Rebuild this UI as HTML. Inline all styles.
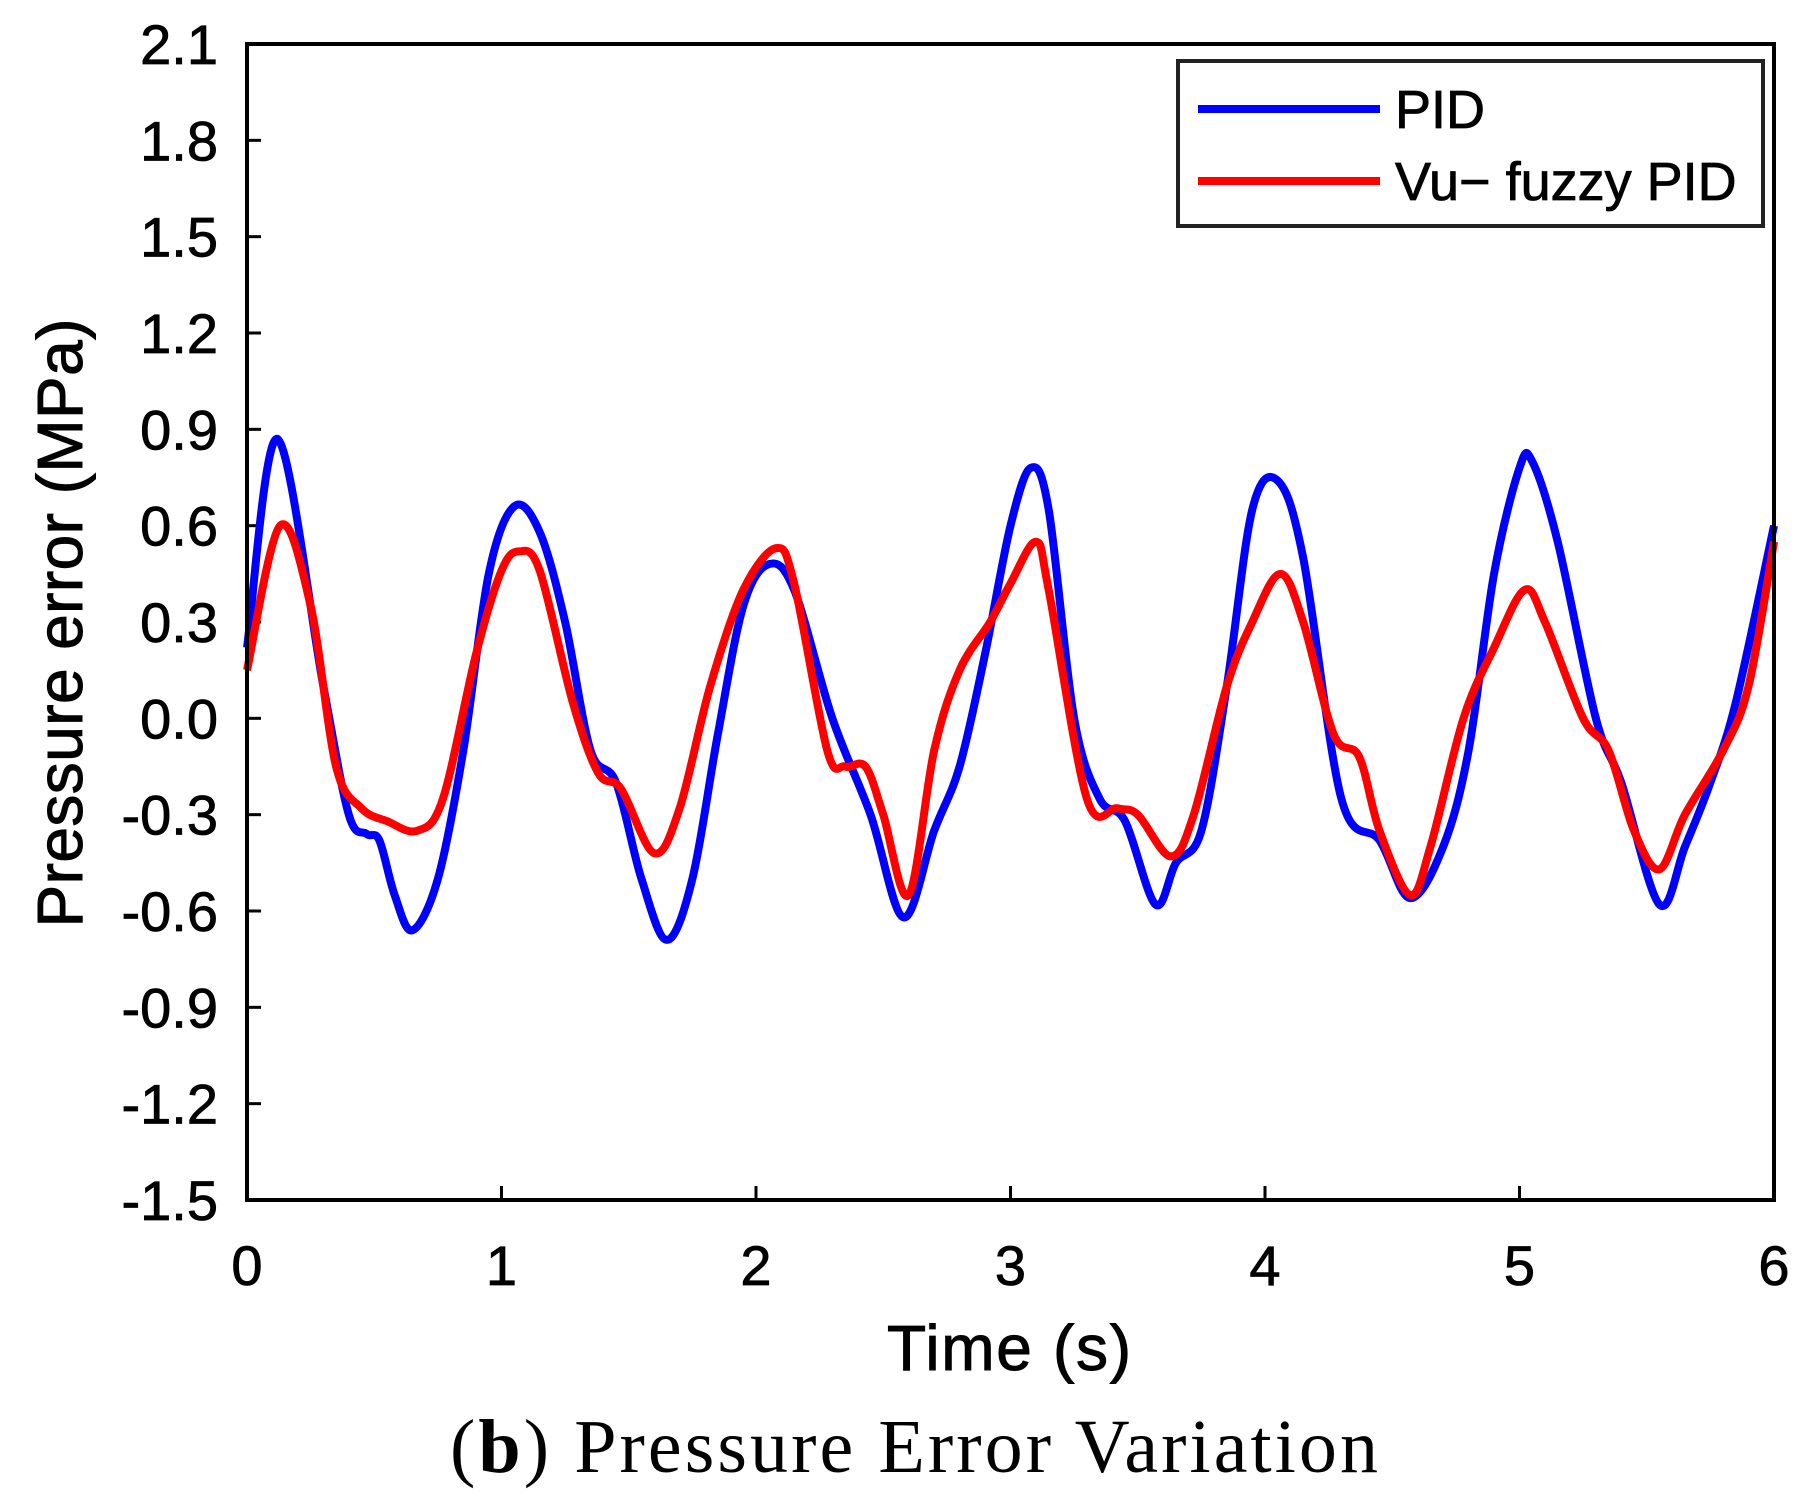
<!DOCTYPE html>
<html><head><meta charset="utf-8"><style>
body{margin:0;background:#fff}
svg text{font-family:"Liberation Sans",sans-serif}
</style></head><body>
<svg id="chart" width="1809" height="1506" viewBox="0 0 1809 1506" xmlns="http://www.w3.org/2000/svg">
<rect width="1809" height="1506" fill="#fff"/>
<g id="ticks"></g>
<g id="series"></g>
<rect x="247" y="44" width="1527" height="1156" fill="none" stroke="#000" stroke-width="4"/>
<g>
<rect x="1178" y="61" width="585" height="165" fill="#fff" stroke="#222" stroke-width="4"/>
<line x1="1198" y1="109" x2="1380" y2="109" stroke="#0000ff" stroke-width="8"/>
<text x="1395" y="128" font-size="54" stroke="#000" stroke-width="0.8">PID</text>
<line x1="1198" y1="181" x2="1380" y2="181" stroke="#ff0000" stroke-width="8"/>
<text x="1395" y="200" font-size="54" stroke="#000" stroke-width="0.8">Vu− fuzzy PID</text>
</g>
<text x="1009" y="1370" font-size="64" text-anchor="middle" textLength="244" stroke="#000" stroke-width="1">Time (s)</text>
<text transform="translate(82,623) rotate(-90)" font-size="64" text-anchor="middle" textLength="609" stroke="#000" stroke-width="1">Pressure error (MPa)</text>
<text x="914" y="1472" font-size="76" text-anchor="middle" textLength="928" style="font-family:'Liberation Serif',serif">(<tspan font-weight="bold">b</tspan>) Pressure Error Variation</text>
</svg>
<script>
const xTicks=[0,1,2,3,4,5,6];
const yTicks=[2.1,1.8,1.5,1.2,0.9,0.6,0.3,0.0,-0.3,-0.6,-0.9,-1.2,-1.5];
const pidT=[0,0.12,0.3,0.4,0.47,0.52,0.58,0.65,0.75,0.85,0.95,1.05,1.15,1.25,1.35,1.45,1.55,1.65,1.75,1.85,1.95,2.05,2.15,2.3,2.45,2.58,2.7,2.8,2.9,3.0,3.08,3.15,3.25,3.35,3.45,3.57,3.65,3.75,3.85,3.95,4.05,4.15,4.3,4.45,4.57,4.7,4.8,4.9,5.0,5.05,5.15,5.3,5.4,5.55,5.65,5.75,5.85,6.0];
const pidV=[0.22,0.87,0.1,-0.3,-0.36,-0.38,-0.55,-0.66,-0.5,-0.1,0.45,0.66,0.58,0.3,-0.1,-0.2,-0.5,-0.69,-0.5,-0.05,0.35,0.48,0.4,0.0,-0.3,-0.62,-0.35,-0.15,0.2,0.6,0.78,0.65,0.0,-0.25,-0.32,-0.58,-0.45,-0.35,0.1,0.65,0.74,0.5,-0.25,-0.38,-0.56,-0.4,-0.1,0.45,0.78,0.8,0.55,0.0,-0.2,-0.58,-0.4,-0.2,0.05,0.6];
const fuzT=[0,0.13,0.25,0.35,0.45,0.55,0.67,0.77,0.9,1.0,1.07,1.15,1.28,1.38,1.47,1.6,1.7,1.82,1.95,2.08,2.15,2.28,2.35,2.43,2.5,2.6,2.7,2.8,2.92,3.0,3.1,3.15,3.3,3.42,3.5,3.63,3.72,3.85,3.95,4.06,4.15,4.27,4.37,4.45,4.57,4.65,4.78,4.9,5.02,5.1,5.25,5.35,5.45,5.55,5.65,5.8,5.9,6.0];
const fuzV=[0.15,0.6,0.35,-0.15,-0.28,-0.32,-0.35,-0.25,0.2,0.46,0.52,0.46,0.05,-0.17,-0.22,-0.42,-0.28,0.1,0.4,0.53,0.42,-0.1,-0.15,-0.15,-0.3,-0.55,-0.1,0.15,0.3,0.42,0.55,0.4,-0.25,-0.28,-0.3,-0.43,-0.3,0.1,0.3,0.45,0.3,-0.05,-0.12,-0.35,-0.55,-0.4,0.0,0.22,0.4,0.3,0.0,-0.1,-0.35,-0.47,-0.3,-0.1,0.1,0.55];
const X0=247,X1=1774,Y0=44,Y1=1200;
const xs=t=>X0+(t-0)/6*(X1-X0);
const ys=v=>Y0+(2.1-v)/3.6*(Y1-Y0);
const NS="http://www.w3.org/2000/svg";
const tg=document.getElementById('ticks');
xTicks.forEach(t=>{
 const l=document.createElementNS(NS,'line');
 
 
 l.setAttribute('x1',xs(t));l.setAttribute('x2',xs(t));l.setAttribute('y1',Y1);l.setAttribute('y2',Y1-14);
 l.setAttribute('stroke','#000');l.setAttribute('stroke-width','3');tg.appendChild(l);
 const tx=document.createElementNS(NS,'text');
 
 
 tx.setAttribute('x',xs(t));tx.setAttribute('y',1285);tx.setAttribute('font-size','56');tx.setAttribute('text-anchor','middle');
 tx.setAttribute('stroke','#000');tx.setAttribute('stroke-width','0.8');
 tx.textContent=t;tg.appendChild(tx);
});
yTicks.forEach(v=>{
 const l=document.createElementNS(NS,'line');
 
 
 l.setAttribute('x1',X0);l.setAttribute('x2',X0+14);l.setAttribute('y1',ys(v));l.setAttribute('y2',ys(v));
 l.setAttribute('stroke','#000');l.setAttribute('stroke-width','3');tg.appendChild(l);
 const tx=document.createElementNS(NS,'text');
 
 
 tx.setAttribute('x',218);tx.setAttribute('y',ys(v)+20);tx.setAttribute('font-size','56');tx.setAttribute('text-anchor','end');
 tx.setAttribute('stroke','#000');tx.setAttribute('stroke-width','0.8');
 tx.textContent=v.toFixed(1);tg.appendChild(tx);
});
function path(T,V){
 const p=T.map((t,i)=>[xs(t),ys(V[i])]);
 let d='M'+p[0][0]+','+p[0][1];
 for(let i=0;i<p.length-1;i++){
  const a=p[Math.max(0,i-1)],b=p[i],c=p[i+1],e=p[Math.min(p.length-1,i+2)];
  const c1=[b[0]+(c[0]-a[0])/6,b[1]+(c[1]-a[1])/6],c2=[c[0]-(e[0]-b[0])/6,c[1]-(e[1]-b[1])/6];
  d+=' C'+c1+' '+c2+' '+c;
 }
 return d;
}
const sg=document.getElementById('series');
[[pidT,pidV,'#0000ff','pid-line'],[fuzT,fuzV,'#ff0000','fuzzy-pid-line']].forEach(s=>{
 const el=document.createElementNS(NS,'path');
 
 
 el.setAttribute('d',path(s[0],s[1]));el.setAttribute('fill','none');el.setAttribute('stroke',s[2]);el.setAttribute('stroke-width','8');
 sg.appendChild(el);
});
</script>
</body></html>
